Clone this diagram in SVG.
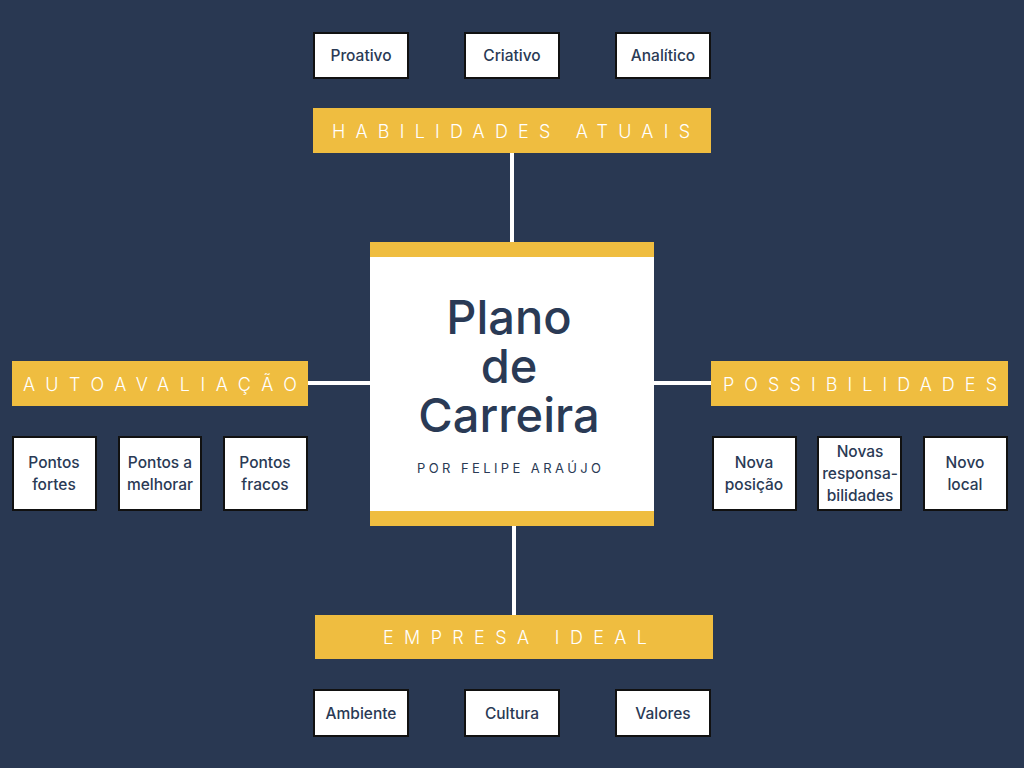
<svg xmlns="http://www.w3.org/2000/svg" width="1024" height="768" viewBox="0 0 1024 768">
<style>
.bar{fill:#EFBD40;}
.box{fill:#ffffff;stroke:#111111;stroke-width:2;}
.lbl{font-family:Inter,"Open Sans","Liberation Sans",sans-serif;font-size:18px;font-weight:300;fill:#ffffff;text-anchor:middle;}
.t{font-family:Inter,"Open Sans","Liberation Sans",sans-serif;font-size:15.5px;font-weight:500;fill:#2A3A55;text-anchor:middle;}
.title{font-family:Inter,"Open Sans","Liberation Sans",sans-serif;font-size:47px;font-weight:500;fill:#2A3A55;text-anchor:middle;}
.sub{font-family:Inter,"Open Sans","Liberation Sans",sans-serif;font-size:13px;font-weight:400;fill:#2A3A55;text-anchor:middle;}
.conn{stroke:#ffffff;stroke-width:4;fill:none;}
</style>
<rect width="1024" height="768" fill="#293852"/>
<g id="connectors">
<line class="conn" x1="512" y1="153" x2="512" y2="243"/>
<line class="conn" x1="514" y1="525" x2="514" y2="615"/>
<line class="conn" x1="308" y1="383" x2="371" y2="383"/>
<line class="conn" x1="653" y1="383" x2="711" y2="383"/>
</g>
<g id="center">
<rect x="370" y="242" width="284" height="284" fill="#ffffff"/>
<rect class="bar" x="370" y="242" width="284" height="15"/>
<rect class="bar" x="370" y="511" width="284" height="15"/>
<text class="title" x="509" y="334">Plano</text>
<text class="title" x="509" y="383">de</text>
<text class="title" x="509" y="432">Carreira</text>
<text class="sub" x="509" y="473" textLength="184" lengthAdjust="spacing">POR FELIPE ARAÚJO</text>
</g>
<g id="habilidades">
<rect class="bar" x="313" y="108" width="398" height="45"/>
<text class="lbl" x="511" y="138" textLength="358" lengthAdjust="spacing">HABILIDADES ATUAIS</text>
</g>
<g id="autoavaliacao">
<rect class="bar" x="12" y="361" width="296" height="45"/>
<text class="lbl" x="160" y="391" textLength="274" lengthAdjust="spacing">AUTOAVALIAÇÃO</text>
</g>
<g id="possibilidades">
<rect class="bar" x="711" y="361" width="297" height="45"/>
<text class="lbl" x="860" y="391" textLength="274" lengthAdjust="spacing">POSSIBILIDADES</text>
</g>
<g id="empresa">
<rect class="bar" x="315" y="615" width="398" height="44"/>
<text class="lbl" x="515" y="644" textLength="264" lengthAdjust="spacing">EMPRESA IDEAL</text>
</g>
<g id="proativo"><rect class="box" x="314" y="33" width="94" height="45"/><text class="t" x="361" y="61">Proativo</text></g>
<g id="criativo"><rect class="box" x="465" y="33" width="94" height="45"/><text class="t" x="512" y="61">Criativo</text></g>
<g id="analitico"><rect class="box" x="616" y="33" width="94" height="45"/><text class="t" x="663" y="61">Analítico</text></g>
<g id="pontos-fortes"><rect class="box" x="13" y="437" width="83" height="73"/><text class="t" x="54" y="468">Pontos</text><text class="t" x="54" y="490">fortes</text></g>
<g id="pontos-melhorar"><rect class="box" x="119" y="437" width="82" height="73"/><text class="t" x="160" y="468">Pontos a</text><text class="t" x="160" y="490">melhorar</text></g>
<g id="pontos-fracos"><rect class="box" x="224" y="437" width="83" height="73"/><text class="t" x="265" y="468">Pontos</text><text class="t" x="265" y="490">fracos</text></g>
<g id="nova-posicao"><rect class="box" x="713" y="437" width="83" height="73"/><text class="t" x="754" y="468">Nova</text><text class="t" x="754" y="490">posição</text></g>
<g id="novas-resp"><rect class="box" x="818" y="437" width="83" height="73"/><text class="t" x="860" y="457">Novas</text><text class="t" x="860" y="479">responsa-</text><text class="t" x="860" y="501">bilidades</text></g>
<g id="novo-local"><rect class="box" x="924" y="437" width="83" height="73"/><text class="t" x="965" y="468">Novo</text><text class="t" x="965" y="490">local</text></g>
<g id="ambiente"><rect class="box" x="314" y="690" width="94" height="46"/><text class="t" x="361" y="719">Ambiente</text></g>
<g id="cultura"><rect class="box" x="465" y="690" width="94" height="46"/><text class="t" x="512" y="719">Cultura</text></g>
<g id="valores"><rect class="box" x="616" y="690" width="94" height="46"/><text class="t" x="663" y="719">Valores</text></g>
</svg>
